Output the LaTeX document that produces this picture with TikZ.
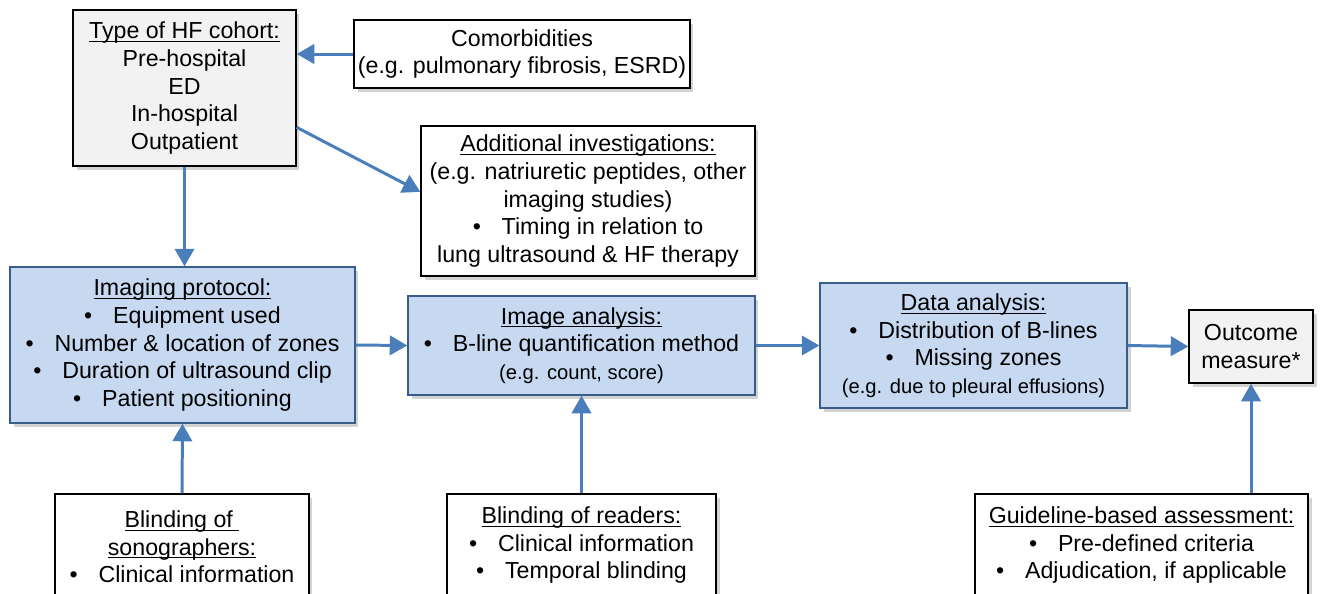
\documentclass[tikz,border=0pt]{standalone}
\usepackage{fontspec}
\setmainfont{Liberation Sans}
\usetikzlibrary{arrows.meta,calc,shadows}
\definecolor{arrowblue}{RGB}{74,126,187}
\definecolor{boxblue}{RGB}{198,217,241}
\definecolor{edgeblue}{RGB}{56,93,138}
\definecolor{boxgrey}{RGB}{242,242,242}
\tikzset{
  box/.style={draw=black, fill=white, line width=0.8pt, align=center, inner sep=2pt,
    drop shadow={shadow xshift=2pt, shadow yshift=-2pt, opacity=0.35}},
  greybox/.style={box, fill=boxgrey},
  bluebox/.style={box, fill=boxblue, draw=edgeblue},
  link/.style={draw=arrowblue, line width=1.7pt, -{Triangle[length=10pt,width=11pt]}}
}
\newcommand{\bul}{\textbullet\hspace{0.9em}}
\newcommand{\head}[1]{\underline{\raisebox{0pt}[\height][0pt]{#1}}}
\begin{document}
\begin{tikzpicture}[x=0.02cm, y=-0.02cm, font=\fontsize{13.2}{15.7}\selectfont]
	\useasboundingbox (0,0) rectangle (1327,593);
	% top row
	\node[greybox, minimum width=4.46cm, minimum height=3.12cm] (hf) at (184.5,88)
		{\head{Type of HF cohort:}\\Pre-hospital\\ED\\In-hospital\\Outpatient};
	\node[box, minimum width=6.72cm, minimum height=1.36cm] (comorb) at (522,54)
		{Comorbidities\\(e.g. pulmonary fibrosis, ESRD)};
	\node[box, minimum width=6.68cm, minimum height=3.0cm] (addinv) at (588,201)
		{\head{Additional investigations:}\\(e.g. natriuretic peptides, other\\imaging studies)\\\bul Timing in relation to\\lung ultrasound \& HF therapy};
	% middle row
	\node[bluebox, minimum width=6.9cm, minimum height=3.12cm] (imaging) at (182.5,345)
		{\head{Imaging protocol:}\\\bul Equipment used\\\bul Number \& location of zones\\\bul Duration of ultrasound clip\\\bul Patient positioning};
	\node[bluebox, minimum width=6.94cm, minimum height=1.98cm] (imganal) at (581.5,345.5)
		{\head{Image analysis:}\\\bul B-line quantification method\\{\fontsize{11.5}{15.7}\selectfont (e.g. count, score)}};
	\node[bluebox, minimum width=6.14cm, minimum height=2.5cm] (data) at (973.5,345.5)
		{\head{Data analysis:}\\\bul Distribution of B-lines\\\bul Missing zones\\{\fontsize{11.5}{15.7}\selectfont (e.g. due to pleural effusions)}};
	\node[greybox, minimum width=2.48cm, minimum height=1.46cm] (outcome) at (1251,346.5)
		{Outcome\\measure*};
	% bottom row
	\node[box, minimum width=5.08cm, minimum height=2.12cm] (sono) at (182,547)
		{\head{Blinding of }\\\head{sonographers:}\\\bul Clinical information};
	\node[box, minimum width=5.38cm, minimum height=2.04cm] (readers) at (581.5,545)
		{\head{Blinding of readers:}\\\bul Clinical information\\\bul Temporal blinding};
	\node[box, minimum width=6.66cm, minimum height=2.04cm] (guide) at (1141.5,545)
		{\head{Guideline-based assessment:}\\\bul Pre-defined criteria\\\bul Adjudication, if applicable};
	% arrows
	\draw[link] (comorb.west) -- (comorb.west -| hf.east);
	\draw[link] ($(hf.south east)!0.25!(hf.north east)$) -- ($(addinv.north west)!0.44!(addinv.south west)$);
	\draw[link] (hf.south) -- (hf.south |- imaging.north);
	\draw[link] (imaging.east) -- (imganal.west);
	\draw[link] (imganal.east) -- (data.west);
	\draw[link] (data.east) -- (outcome.west);
	\draw[link] (sono.north) -- (imaging.south);
	\draw[link] (readers.north) -- (imganal.south);
	\draw[link] (guide.north -| outcome.south) -- (outcome.south);
\end{tikzpicture}
\end{document}
